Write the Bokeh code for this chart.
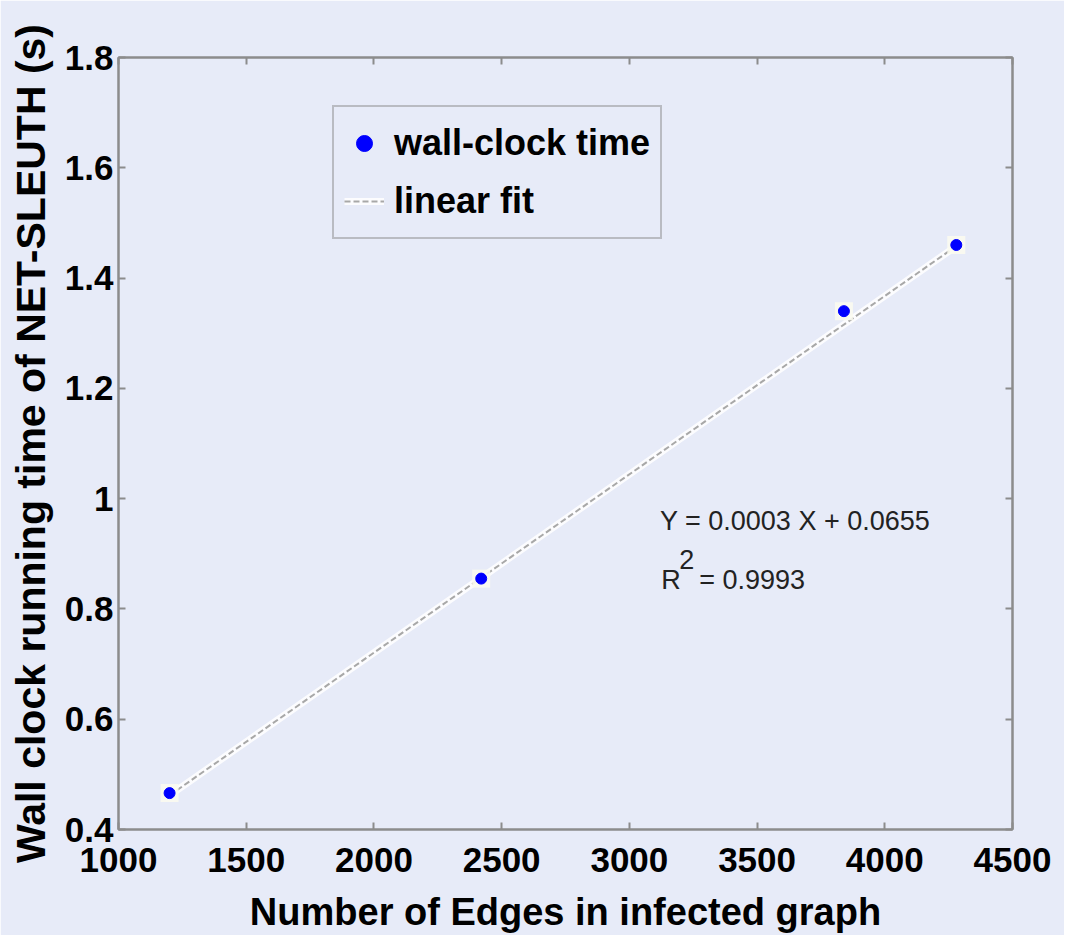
from bokeh.plotting import figure
from bokeh.models import (LinearAxis, FixedTicker, Legend, LegendItem, Label)
from bokeh.embed import file_html
from bokeh.resources import INLINE

# ---- data ----
edges = [1200, 2420, 3840, 4280]
wall_time = [0.466, 0.855, 1.340, 1.460]
fit_x = [1200, 4280]
fit_y = [0.462, 1.458]
x_ticks = [1000, 1500, 2000, 2500, 3000, 3500, 4000, 4500]
x_tick_labels = ["1000", "1500", "2000", "2500", "3000", "3500", "4000", "4500"]
y_ticks = [0.4, 0.6, 0.8, 1.0, 1.2, 1.4, 1.6, 1.8]
y_tick_labels = ["0.4", "0.6", "0.8", "1", "1.2", "1.4", "1.6", "1.8"]
eq_text = "Y = 0.0003 X + 0.0655"
r2_value = "= 0.9993"

BG = "#e7ebf8"
FRAME = "#8c8c8c"
FONT = "Liberation Sans"

p = figure(width=1064, height=935, x_range=(1000, 4500), y_range=(0.4, 1.8),
           output_backend="svg", toolbar_location=None,
           min_border_left=118, min_border_right=52, min_border_top=57,
           min_border_bottom=104)
p.background_fill_color = BG
p.border_fill_color = BG
p.outline_line_color = FRAME
p.outline_line_width = 2
p.grid.visible = False

def style_axis(ax, ticks, labels, show_labels=True):
    ax.ticker = FixedTicker(ticks=ticks)
    if show_labels:
        ax.major_label_overrides = {t: l for t, l in zip(ticks, labels)}
    else:
        ax.major_label_overrides = {t: "" for t in ticks}
    ax.axis_line_color = FRAME
    ax.axis_line_width = 2
    ax.major_tick_line_color = FRAME
    ax.major_tick_line_width = 2
    ax.major_tick_in = 7
    ax.major_tick_out = 0
    ax.minor_tick_line_color = None
    ax.major_label_text_font = FONT
    ax.major_label_text_font_style = "bold"
    ax.major_label_text_font_size = "35px"
    ax.major_label_text_color = "black"
    ax.axis_label_text_font = FONT
    ax.axis_label_text_font_style = "bold"
    ax.axis_label_text_color = "black"

xa = p.xaxis[0]
ya = p.yaxis[0]
style_axis(xa, x_ticks, x_tick_labels)
style_axis(ya, y_ticks, y_tick_labels)
xa.axis_label = "Number of Edges in infected graph"
xa.axis_label_text_font_size = "38px"
xa.major_label_standoff = 18
xa.axis_label_standoff = 16
ya.axis_label = "Wall clock running time of NET-SLEUTH (s)"
ya.axis_label_text_font_size = "41px"
ya.major_label_standoff = 5
ya.axis_label_standoff = 8

top = LinearAxis()
style_axis(top, x_ticks, x_tick_labels, show_labels=False)
top.major_label_text_font_size = "0px"
right = LinearAxis()
style_axis(right, y_ticks, y_tick_labels, show_labels=False)
right.major_label_text_font_size = "0px"
p.add_layout(top, "above")
p.add_layout(right, "right")

# fit line with white halo
halo = p.line(fit_x, fit_y, line_color="white", line_width=7, line_alpha=0.85)
fit = p.line(fit_x, fit_y, line_color="#a8a8a8", line_width=2, line_dash="6 3")

# points with light halo
p.scatter(edges, wall_time, marker="square", size=18, fill_color="#fbfbf0",
          line_color=None, fill_alpha=0.9)
pts = p.scatter(edges, wall_time, marker="circle", size=11, fill_color="#0000ff",
                line_color="#0000ff")

legend = Legend(items=[LegendItem(label="wall-clock time", renderers=[pts]),
                       LegendItem(label="linear fit", renderers=[halo, fit])],
                location=(214, 590))
legend.label_text_font = FONT
legend.label_text_font_style = "bold"
legend.label_text_font_size = "36px"
legend.label_text_color = "black"
legend.label_height = 52
legend.glyph_height = 52
legend.glyph_width = 40
legend.spacing = 6
legend.padding = 10
legend.margin = 0
legend.label_standoff = 10
legend.border_line_color = FRAME
legend.border_line_width = 2
legend.background_fill_color = BG
legend.background_fill_alpha = 1.0
p.add_layout(legend, "center")

# equation annotation
common = dict(text_font=FONT, text_color="#222222", text_baseline="middle",
              text_font_size="27px")
p.add_layout(Label(x=3120, y=0.96, text=eq_text, **common))
p.add_layout(Label(x=3125, y=0.852, text="R", **common))
p.add_layout(Label(x=3125, y=0.852, x_offset=18, y_offset=21, text="2", **common))
p.add_layout(Label(x=3125, y=0.852, x_offset=38, text=r2_value, **common))

open("out.html", "w").write(file_html(p, INLINE))
